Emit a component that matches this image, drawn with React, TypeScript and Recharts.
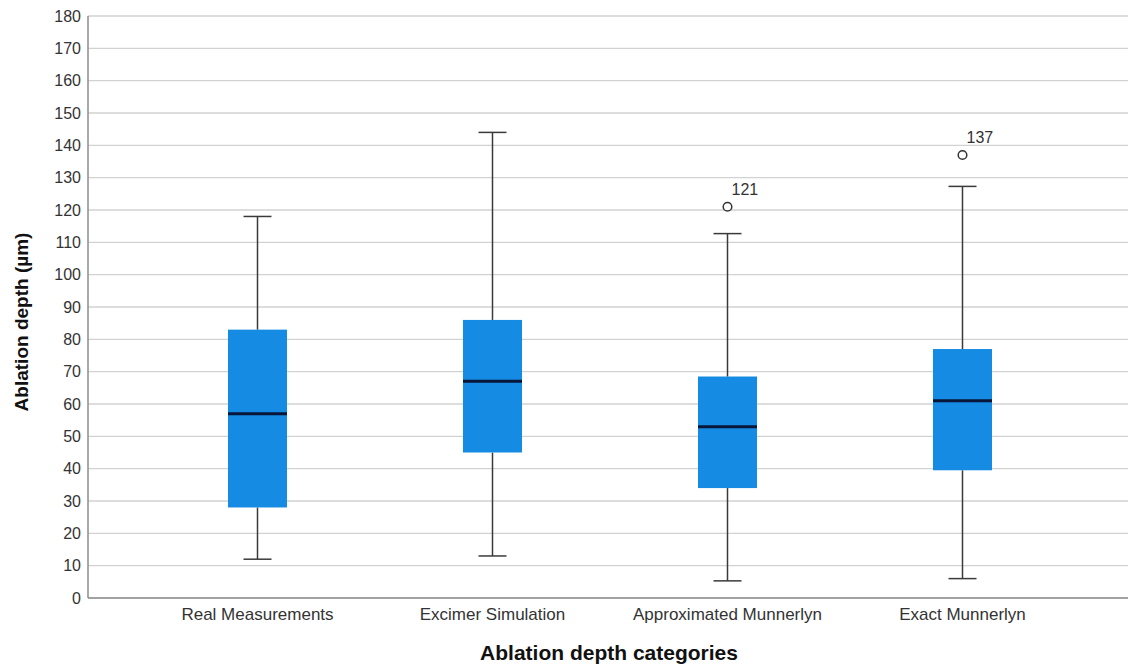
import React from "react";
import {
  ComposedChart,
  Bar,
  Line,
  XAxis,
  YAxis,
  CartesianGrid,
} from "recharts";

// Box plot of ablation depth per method: whiskers, quartile box, median, outliers
const categories = [
  "Real Measurements",
  "Excimer Simulation",
  "Approximated Munnerlyn",
  "Exact Munnerlyn",
];
const whiskerLow = [12, 13, 5.3, 6];
const quartile1 = [28, 45, 34, 39.5];
const medians = [57, 67, 53, 61];
const quartile3 = [83, 86, 68.5, 77];
const whiskerHigh = [118, 144, 112.7, 127.3];
const outliers: (number | null)[] = [null, null, 121, 137];
const yTicks = [0, 10, 20, 30, 40, 50, 60, 70, 80, 90, 100, 110, 120, 130, 140, 150, 160, 170, 180];

const FONT = "Arial, 'Liberation Sans', sans-serif";
const BOX_FILL = "#158be3";
const MEDIAN = "#08163a";
const WHISKER = "#3a3a3a";
const CAP = 28;

// stacked segments: invisible base, lower whisker, lower box, upper box, upper whisker
const data = categories.map((name, i) => ({
  name,
  base: whiskerLow[i],
  lowWhisker: quartile1[i] - whiskerLow[i],
  lowBox: medians[i] - quartile1[i],
  highBox: quartile3[i] - medians[i],
  highWhisker: whiskerHigh[i] - quartile3[i],
  outlier: outliers[i],
}));

const Empty = () => <g />;

const LowWhisker = (p: any) => {
  const cx = p.x + p.width / 2;
  const bottom = p.y + p.height;
  return (
    <g>
      <line x1={cx} x2={cx} y1={p.y} y2={bottom} stroke={WHISKER} strokeWidth={1.5} />
      <line x1={cx - CAP / 2} x2={cx + CAP / 2} y1={bottom} y2={bottom} stroke={WHISKER} strokeWidth={1.5} />
    </g>
  );
};

const HighWhisker = (p: any) => {
  const cx = p.x + p.width / 2;
  return (
    <g>
      <line x1={cx} x2={cx} y1={p.y} y2={p.y + p.height} stroke={WHISKER} strokeWidth={1.5} />
      <line x1={cx - CAP / 2} x2={cx + CAP / 2} y1={p.y} y2={p.y} stroke={WHISKER} strokeWidth={1.5} />
    </g>
  );
};

const LowBox = (p: any) => (
  <rect x={p.x} y={p.y} width={p.width} height={p.height} fill={BOX_FILL} />
);

// upper half of the box, median drawn along its bottom edge
const HighBox = (p: any) => (
  <g>
    <rect x={p.x} y={p.y} width={p.width} height={p.height} fill={BOX_FILL} />
    <line
      x1={p.x}
      x2={p.x + p.width}
      y1={p.y + p.height}
      y2={p.y + p.height}
      stroke={MEDIAN}
      strokeWidth={3}
    />
  </g>
);

const OutlierDot = (p: any) => {
  const { cx, cy, value, index } = p;
  if (value == null || cx == null || cy == null) return <g key={`o-${index}`} />;
  return (
    <g key={`o-${index}`}>
      <circle cx={cx} cy={cy} r={4.3} fill="#fff" stroke="#333" strokeWidth={1.5} />
      <text x={cx + 4} y={cy - 12} fontSize={16} fill="#333" fontFamily={FONT}>
        {value}
      </text>
    </g>
  );
};

export default function App() {
  return (
    <div
      style={{
        position: "absolute",
        left: 0,
        top: 0,
        width: 1130,
        height: 667,
        background: "#fff",
        fontFamily: FONT,
      }}
    >
      <ComposedChart
        width={1130}
        height={667}
        data={data}
        margin={{ top: 16, right: 2, left: 0, bottom: 0 }}
      >
        <CartesianGrid vertical={false} stroke="#d2d2d2" strokeWidth={1.3} />
        <XAxis
          dataKey="name"
          type="category"
          interval={0}
          height={69}
          padding={{ left: 52, right: 48 }}
          tickLine={false}
          tickSize={6}
          tickMargin={4}
          axisLine={{ stroke: "#8c8c8c", strokeWidth: 1.5 }}
          tick={{ fill: "#333", fontSize: 17, fontFamily: FONT }}
        />
        <YAxis
          type="number"
          domain={[0, 180]}
          ticks={yTicks}
          interval={0}
          width={88}
          tickLine={false}
          tickSize={5}
          tickMargin={2}
          axisLine={{ stroke: "#8c8c8c", strokeWidth: 1.5 }}
          tick={{ fill: "#333", fontSize: 16, fontFamily: FONT }}
        />
        <Bar dataKey="base" stackId="box" barSize={59} shape={Empty} isAnimationActive={false} />
        <Bar dataKey="lowWhisker" stackId="box" barSize={59} shape={LowWhisker} isAnimationActive={false} />
        <Bar dataKey="lowBox" stackId="box" barSize={59} shape={LowBox} isAnimationActive={false} />
        <Bar dataKey="highBox" stackId="box" barSize={59} shape={HighBox} isAnimationActive={false} />
        <Bar dataKey="highWhisker" stackId="box" barSize={59} shape={HighWhisker} isAnimationActive={false} />
        <Line
          dataKey="outlier"
          stroke="none"
          dot={OutlierDot}
          activeDot={false}
          legendType="none"
          isAnimationActive={false}
        />
      </ComposedChart>
      <div
        style={{
          position: "absolute",
          left: 609,
          top: 652,
          transform: "translate(-50%, -50%)",
          fontSize: 21,
          fontWeight: "bold",
          lineHeight: 1,
          whiteSpace: "nowrap",
          color: "#111",
        }}
      >
        Ablation depth categories
      </div>
      <div
        style={{
          position: "absolute",
          left: 21,
          top: 322,
          transform: "translate(-50%, -50%) rotate(-90deg)",
          fontSize: 19,
          fontWeight: "bold",
          lineHeight: 1,
          whiteSpace: "nowrap",
          color: "#111",
        }}
      >
        Ablation depth (µm)
      </div>
    </div>
  );
}
